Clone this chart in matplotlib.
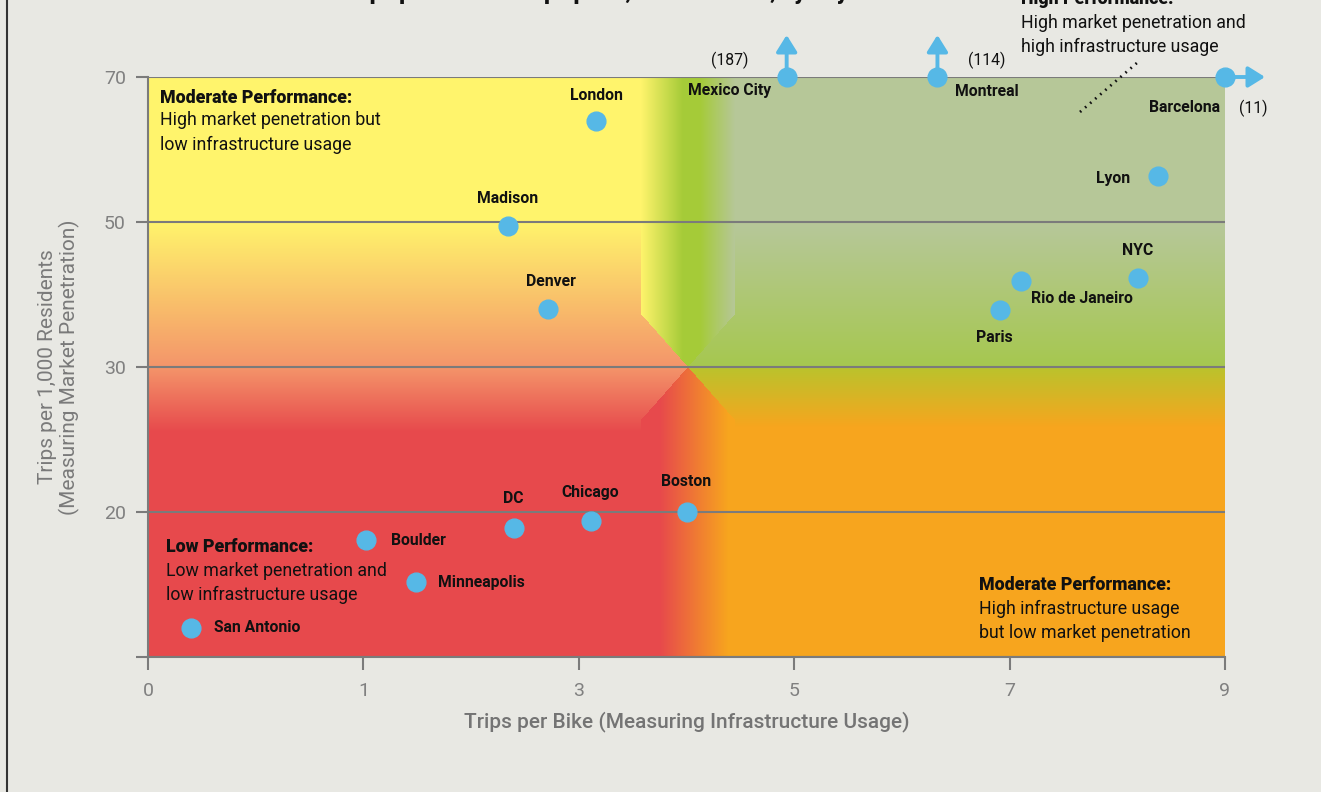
import numpy as np
import matplotlib.pyplot as plt
from matplotlib.colors import to_rgb
from matplotlib.lines import Line2D

plt.rcParams['font.family'] = ['Roboto', 'DejaVu Sans']

# data
cities = ['San Antonio', 'Boulder', 'Minneapolis', 'DC', 'Chicago', 'Boston',
          'Madison', 'Denver', 'London', 'Mexico City', 'Montreal', 'Barcelona',
          'Paris', 'Rio de Janeiro', 'NYC', 'Lyon']
trips_per_bike = [0.2, 1.02, 1.49, 2.4, 3.11, 4.0,
                  2.34, 2.71, 3.16, 4.93, 6.33, 9.0,
                  6.91, 7.11, 8.19, 8.38]
trips_per_1000 = [12.0, 18.1, 15.2, 18.9, 19.4, 20.0,
                  49.4, 38.0, 63.9, 70.3, 70.3, 70.0,
                  37.9, 41.9, 42.3, 56.3]
# off-scale values (real value shown in brackets)
off_city = ['Mexico City', 'Montreal', 'Barcelona']
off_value = ['(187)', '(114)', '(11)']
off_dir = ['up', 'up', 'right']

x_ticks = [0, 1, 3, 5, 7, 9]
y_ticks = [10, 20, 30, 50, 70]
y_labels = ['', '20', '30', '50', '70']

# label offsets in pixels (dx, dy up) and alignment
label_pos = {
    'San Antonio': (23, 0, 'left'), 'Boulder': (25, -1, 'left'),
    'Minneapolis': (22, -1, 'left'), 'DC': (-1, 29, 'center'),
    'Chicago': (0, 28, 'center'), 'Boston': (0, 31, 'center'),
    'Madison': (0, 28, 'center'), 'Denver': (3, 27, 'center'),
    'London': (0, 26, 'center'), 'Mexico City': (-57, -14, 'center'),
    'Montreal': (49, -14, 'center'), 'Barcelona': (-5, -31, 'right'),
    'Paris': (-6, -28, 'center'), 'Rio de Janeiro': (10, -18, 'left'),
    'NYC': (0, 27, 'center'), 'Lyon': (-28, -2, 'right'),
}
off_pos = {'Mexico City': (-57, 17), 'Montreal': (49, 17), 'Barcelona': (28, -31)}

W, H = 1321, 792
fig = plt.figure(figsize=(W / 100, H / 100), dpi=100)
fig.patch.set_facecolor('#e8e8e3')
ax = fig.add_axes([148 / W, 135 / H, 1077 / W, 580 / H])

# uneven axis scales
def fx(v):
    return np.interp(v, x_ticks, np.arange(len(x_ticks)))
def ix(v):
    return np.interp(v, np.arange(len(x_ticks)), x_ticks)
def fy(v):
    return np.interp(v, y_ticks, np.arange(len(y_ticks)))
def iy(v):
    return np.interp(v, np.arange(len(y_ticks)), y_ticks)

ax.set_xscale('function', functions=(fx, ix))
ax.set_yscale('function', functions=(fy, iy))

# background gradient (axes pixels)
Y, SAL, R = '#fff46c', '#f4956a', '#e7494c'
GG, GN, YG, OR, BG = '#b6c798', '#a6c74f', '#bcc22c', '#f7a51e', '#a5cb38'

def ramp(pos, stops):
    ps = [s[0] for s in stops]
    cs = np.array([to_rgb(s[1]) for s in stops])
    return np.stack([np.interp(pos, ps, cs[:, k]) for k in range(3)], axis=-1)

nw, nh = 1077, 580
px = np.arange(nw) + 0.5
py = np.arange(nh) + 0.5
PX, PY = np.meshgrid(px, py)
cx, cy = 540, 290
left = ramp(py, [(0, Y), (145, Y), (290, SAL), (355, R), (580, R)])
right = ramp(py, [(0, GG), (150, GG), (290, GN), (292, YG), (350, OR), (580, OR)])
btop = ramp(px, [(493, Y), (535, BG), (552, BG), (587, GG)])
bbot = ramp(px, [(493, R), (512, R), (580, OR)])
img = np.where((PX < cx)[..., None], left[:, None, :], right[:, None, :])
dx = PX - cx
dy = PY - cy
band = (np.abs(dx) < 47) & (np.abs(dx) < np.abs(dy) * 47 / 53)
img = np.where((band & (dy < 0))[..., None], btop[None, :, :], img)
img = np.where((band & (dy > 0))[..., None], bbot[None, :, :], img)
ax.imshow(img, extent=(0, 1, 0, 1), transform=ax.transAxes, aspect='auto',
          zorder=0, interpolation='bilinear')

ax.set_xlim(0, 9)
ax.set_ylim(10, 70)

gray = '#7b7b7b'
for s in ['top', 'right']:
    ax.spines[s].set_visible(False)
for s in ['left', 'bottom']:
    ax.spines[s].set_color(gray)
    ax.spines[s].set_linewidth(1.5)
ax.set_xticks(x_ticks)
ax.set_xticklabels([str(t) for t in x_ticks])
ax.set_yticks(y_ticks)
ax.set_yticklabels(y_labels)
ax.tick_params(axis='both', colors=gray, length=9, width=1.5, labelsize=14,
               labelcolor='#808080')
ax.tick_params(axis='x', pad=9)
ax.tick_params(axis='y', pad=7)
ax.yaxis.grid(True, color=gray, lw=1.5)
ax.set_axisbelow(True)

# points
dot = '#56b8e6'
ax.plot(trips_per_bike, trips_per_1000, 'o', ms=13.5, color=dot, zorder=5,
        clip_on=False)

k = 0.72  # px -> pt
for c, x, y in zip(cities, trips_per_bike, trips_per_1000):
    ddx, ddy, ha = label_pos[c]
    ax.annotate(c, (x, y), xytext=(ddx * k, ddy * k), textcoords='offset points',
                ha=ha, va='center', fontsize=11.3, fontweight='bold', color='#111111',
                zorder=6)

for c, v, d in zip(off_city, off_value, off_dir):
    i = cities.index(c)
    x, y = trips_per_bike[i], trips_per_1000[i]
    tip = (0, 42 * k) if d == 'up' else (40 * k, 0)
    ax.annotate('', (x, y), xytext=tip, textcoords='offset points',
                arrowprops=dict(arrowstyle='<|-,head_length=0.4,head_width=0.25',
                                color=dot, lw=2.8, mutation_scale=25,
                                shrinkA=0, shrinkB=0),
                annotation_clip=False, zorder=4)
    ox, oy = off_pos[c]
    ax.annotate(v, (x, y), xytext=(ox * k, oy * k), textcoords='offset points',
                ha='center', va='center', fontsize=11.3, color='#111111',
                annotation_clip=False)

# quadrant notes
def ftext(x, y, s, **kw):
    fig.text(x / W, 1 - y / H, s, va='center', ha='left', color='#111111', **kw)

fs = 12.8
ftext(160, 98, 'Moderate Performance:', fontsize=fs, fontweight='black')
ftext(160, 120, 'High market penetration but', fontsize=fs)
ftext(160, 145, 'low infrastructure usage', fontsize=fs)
ftext(166, 547, 'Low Performance:', fontsize=fs, fontweight='black')
ftext(166, 571, 'Low market penetration and', fontsize=fs)
ftext(166, 595, 'low infrastructure usage', fontsize=fs)
ftext(979, 585, 'Moderate Performance:', fontsize=fs, fontweight='black')
ftext(979, 609, 'High infrastructure usage', fontsize=fs)
ftext(979, 633, 'but low market penetration', fontsize=fs)
ftext(1021, -1, 'High Performance:', fontsize=fs, fontweight='black')
ftext(1021, 23, 'High market penetration and', fontsize=fs)
ftext(1021, 47, 'high infrastructure usage', fontsize=fs)

fig.add_artist(Line2D([1080 / W, 1138 / W], [1 - 112 / H, 1 - 62 / H],
                      color='#111111', lw=2, ls=(0, (0.6, 1.8))))

# title (cut off at the top, only descenders show)
fig.text(0.45, 1 + 1 / H, 'Trips per bike vs. trips per 1,000 residents, by city',
         ha='center', va='baseline', fontsize=16, fontweight='black', color='#111111')

# axis titles
fig.text(59 / W, 1 - 367 / H, 'Trips per 1,000 Residents\n(Measuring Market Penetration)',
         rotation=90, ha='center', va='center', fontsize=15, color='#7a7a7a',
         linespacing=1.1)
fig.text(687 / W, 1 - 722 / H, 'Trips per Bike (Measuring Infrastructure Usage)',
         ha='center', va='center', fontsize=15, color='#747474', fontweight='medium')

# frame line on the left
fig.add_artist(Line2D([7 / W, 7 / W], [0, 1], color='#333333', lw=1.5))

fig.savefig('out.png', dpi=100, facecolor=fig.get_facecolor())
